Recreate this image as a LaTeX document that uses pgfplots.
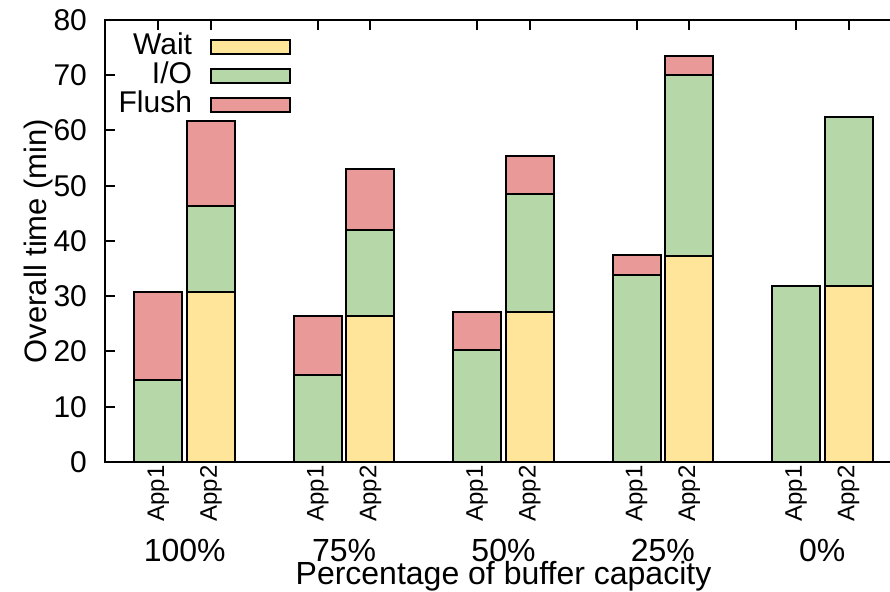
\documentclass[border=0pt]{standalone}
\usepackage{pgfplots}
\pgfplotsset{compat=1.18}
\usepackage{pgfplotstable}
\usepackage{fontspec}
\setmainfont{Liberation Sans}

\definecolor{waitc}{HTML}{FFE599}
\definecolor{ioc}{HTML}{B6D7A8}
\definecolor{flushc}{HTML}{EA9999}

\tikzset{grouplabel/.style={anchor=base, yshift=-50pt, font=\fontsize{16}{19}\selectfont}}

% x: bar position (App1 left, App2 right of each group), then stacked parts
\pgfplotstableread{
x      wait  io    flush
-0.165 0     14.8  16.0
0.165  30.8  15.5  15.4
0.835  0     15.7  10.7
1.165  26.4  15.6  11.0
1.835  0     20.3  6.8
2.165  27.1  21.4  6.9
2.835  0     33.8  3.7
3.165  37.3  32.7  3.5
3.835  0     31.8  0
4.165  31.8  30.6  0
}\timedata

\begin{document}
\begin{tikzpicture}
\useasboundingbox (-52.5pt,-65pt) rectangle (392.5pt,231pt);
\begin{axis}[
  at={(0,0)}, anchor=south west,
  scale only axis,
  width=398.5pt, height=221pt,
  xmin=-0.5, xmax=4.5,
  ymin=0, ymax=80,
  ytick={0,10,...,80},
  xtick={-0.165,0.165,0.835,1.165,1.835,2.165,2.835,3.165,3.835,4.165},
  xticklabels={App1,App2,App1,App2,App1,App2,App1,App2,App1,App2},
  font=\fontsize{15}{18}\selectfont,
  /pgf/number format/assume math mode=true,
  xticklabel style={font=\fontsize{12}{14}\selectfont, rotate=90, anchor=east, inner sep=1.5pt},
  yticklabel style={xshift=-5.5pt},
  tick align=inside,
  major tick length=5pt,
  every tick/.style={black, line width=1pt},
  axis line style={line width=1pt},
  clip=false,
  ybar stacked,
  bar width=0.301,
  bar shift=0pt,
  every axis plot/.append style={draw=black, line width=1pt},
  every axis x label/.style={at={(axis description cs:0.5,0)}, anchor=base, yshift=-61.5pt,
    font=\fontsize{16}{19}\selectfont},
  every axis y label/.style={at={(axis description cs:0,0.5)}, xshift=-33.5pt, rotate=90, anchor=center,
    font=\fontsize{15.5}{18}\selectfont},
  xlabel={Percentage of buffer capacity},
  ylabel={Overall time (min)},
  legend plot pos=right,
  legend cell align=right,
  legend style={draw=none, fill=none, inner sep=0pt, outer sep=0pt,
    at={(0,1)}, anchor=north east, xshift=93pt, yshift=-7pt,
    row sep=1pt, column sep=9pt,
    nodes={inner sep=0pt, text height=10.5pt, text depth=3pt}},
  legend image code/.code={\draw[#1, line width=1pt] (0pt,-3.5pt) rectangle (39.5pt,3.5pt);},
]
\addplot[fill=waitc] table[x=x, y=wait] {\timedata};
\addplot[fill=ioc] table[x=x, y=io] {\timedata};
\addplot[fill=flushc] table[x=x, y=flush] {\timedata};
\legend{Wait, I/O, Flush}
\node[grouplabel] at (axis cs:0,0) {100\%};
\node[grouplabel] at (axis cs:1,0) {75\%};
\node[grouplabel] at (axis cs:2,0) {50\%};
\node[grouplabel] at (axis cs:3,0) {25\%};
\node[grouplabel] at (axis cs:4,0) {0\%};
\end{axis}
\end{tikzpicture}
\end{document}
